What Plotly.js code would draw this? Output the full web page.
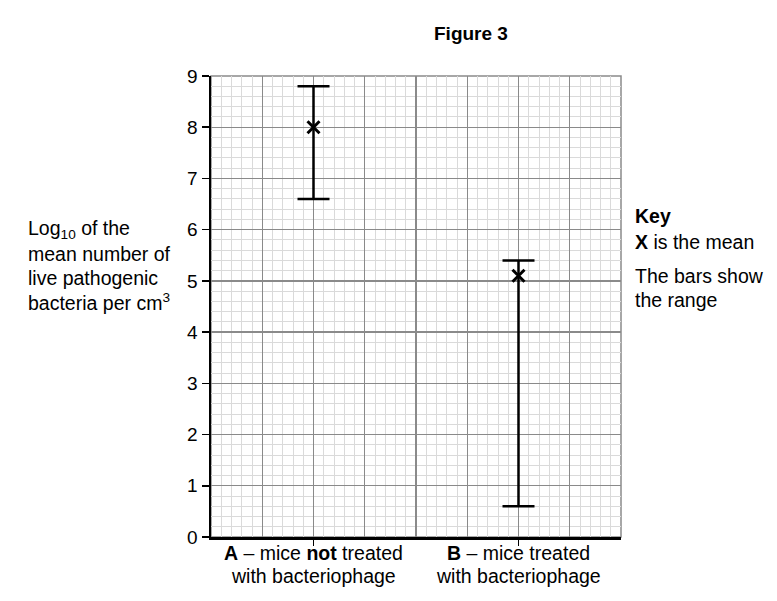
<!DOCTYPE html>
<html>
<head>
<meta charset="utf-8">
<script src="https://cdn.plot.ly/plotly-3.0.1.min.js"></script>
<style>html,body{margin:0;padding:0;background:#fff;}#chart{width:777px;height:601px;}</style>
</head>
<body>
<div id="chart"></div>
<script>
// Data
const groupPositions = [2, 6];
const groupLabelLine1 = ["<b>A</b> – mice <b>not</b> treated", "<b>B</b> – mice treated"];
const groupLabelLine2 = ["with bacteriophage", "with bacteriophage"];
const meanValues = [8.0, 5.1];
const maxValues = [8.8, 5.4];
const minValues = [6.6, 0.6];
const yTickValues = [0, 1, 2, 3, 4, 5, 6, 7, 8, 9];

const errPlus = meanValues.map((m, i) => maxValues[i] - m);
const errMinus = meanValues.map((m, i) => m - minValues[i]);

const FONT = "Liberation Sans, Arial, sans-serif";
const TXT = 19.5;

const L = 211, R = 621, T = 76, B = 537;
const px = x => (x - L) / (R - L);
const py = y => (B - y) / (B - T);

const traces = [
  {
    x: groupPositions, y: meanValues, type: 'scatter', mode: 'markers',
    xaxis: 'x', yaxis: 'y',
    marker: { symbol: 'x-thin-open', size: 12, color: '#000', line: { color: '#000', width: 3 } },
    error_y: { type: 'data', symmetric: false, array: errPlus, arrayminus: errMinus,
      color: '#000', thickness: 2.5, width: 16 },
    hoverinfo: 'skip', showlegend: false, cliponaxis: false
  },
  {
    x: [0], y: [0], type: 'scatter', mode: 'markers', xaxis: 'x2', yaxis: 'y',
    marker: { opacity: 0 }, hoverinfo: 'skip', showlegend: false
  }
];

const ann = (text, x, y, opts = {}) => Object.assign({
  text, xref: 'paper', yref: 'paper', x: px(x), y: py(y), showarrow: false,
  xanchor: 'left', yanchor: 'middle', align: 'left',
  font: { family: FONT, size: TXT, color: '#000' }
}, opts);

const annotations = [
  ann('<b>Figure 3</b>', 471, 33, { xanchor: 'center', font: { family: FONT, size: 19, color: '#000' } }),
  ann('Log<sub>10</sub> of the', 26, 230),
  ann('mean number of', 26, 254),
  ann('live pathogenic', 26, 278),
  ann('bacteria per cm<sup>3</sup>', 26, 302),
  ann('<b>Key</b>', 633, 216),
  ann('<b>X</b> is the mean', 633, 242),
  ann('The bars show', 633, 276),
  ann('the range', 633, 300)
];
groupPositions.forEach((g, i) => {
  annotations.push({ text: groupLabelLine1[i], xref: 'x', yref: 'paper', x: g, y: py(553),
    showarrow: false, xanchor: 'center', yanchor: 'middle',
    font: { family: FONT, size: TXT, color: '#000' } });
  annotations.push({ text: groupLabelLine2[i], xref: 'x', yref: 'paper', x: g, y: py(576),
    showarrow: false, xanchor: 'center', yanchor: 'middle',
    font: { family: FONT, size: TXT, color: '#000' } });
});

const layout = {
  width: 777, height: 601,
  margin: { l: L, r: 777 - R, t: T, b: 601 - B },
  paper_bgcolor: '#fff', plot_bgcolor: '#fff',
  font: { family: FONT, size: 18, color: '#000' },
  showlegend: false,
  xaxis: {
    range: [0, 8], tickmode: 'array', tickvals: groupPositions, showticklabels: false,
    showgrid: false, zeroline: false, ticks: 'outside', ticklen: 6, tickwidth: 1.5, tickcolor: '#000',
    showline: true, linecolor: '#000', linewidth: 2.5, fixedrange: true
  },
  xaxis2: {
    overlaying: 'x', matches: 'x', range: [0, 8], dtick: 1, tick0: 0,
    showgrid: true, gridcolor: '#8a8a8a', gridwidth: 1.3,
    minor: { dtick: 0.2, showgrid: true, gridcolor: '#dadada', gridwidth: 1 },
    showticklabels: false, ticks: '', zeroline: false, showline: false, side: 'bottom'
  },
  yaxis: {
    range: [0, 9], tickmode: 'array', tickvals: yTickValues,
    showgrid: true, gridcolor: '#8a8a8a', gridwidth: 1.3,
    minor: { dtick: 0.2, showgrid: true, gridcolor: '#dadada', gridwidth: 1 },
    zeroline: false, ticks: 'outside', ticklen: 7, tickwidth: 1.5, tickcolor: '#000',
    showline: true, linecolor: '#000', linewidth: 2.5,
    tickfont: { family: FONT, size: 19, color: '#000' }, fixedrange: true
  },
  shapes: [
    { type: 'rect', xref: 'paper', yref: 'paper', x0: 0, x1: 1, y0: 0, y1: 1,
      line: { color: '#8a8a8a', width: 1.5 }, layer: 'below' }
  ],
  annotations
};

Plotly.newPlot('chart', traces, layout, { displayModeBar: false, staticPlot: true });
</script>
</body>
</html>
